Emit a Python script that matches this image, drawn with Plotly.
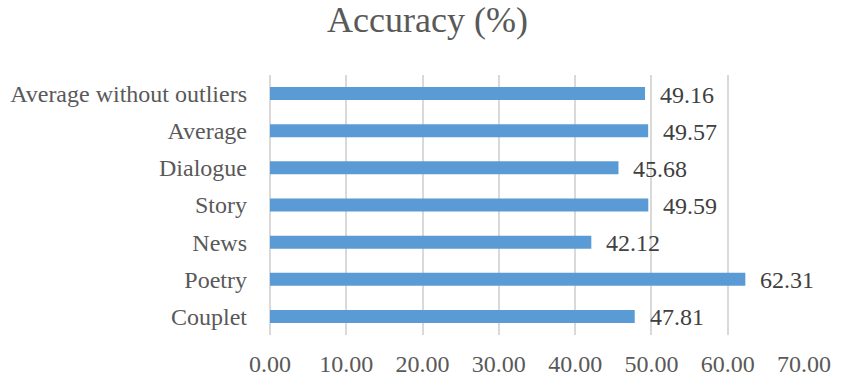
import plotly.graph_objects as go

categories = ["Couplet", "Poetry", "News", "Story", "Dialogue", "Average", "Average without outliers"]
values = [47.81, 62.31, 42.12, 49.59, 45.68, 49.57, 49.16]
tick_vals = [0, 10, 20, 30, 40, 50, 60, 70]
tick_text = ["0.00", "10.00", "20.00", "30.00", "40.00", "50.00", "60.00", "70.00"]

font_fam = "Liberation Serif, Times New Roman, serif"
gray = "#595959"

fig = go.Figure(go.Bar(
    y=categories, x=values, orientation="h",
    marker=dict(color="#5B9BD5", line=dict(width=0)),
    hoverinfo="skip",
))

for c, v in zip(categories, values):
    fig.add_annotation(x=v, y=c, text=f"{v:.2f}", showarrow=False,
                       xanchor="left", xshift=13, yshift=-1,
                       font=dict(family=font_fam, size=24, color="#404040"))

fig.update_layout(
    width=855, height=388,
    margin=dict(l=270, r=51, t=75, b=53),
    paper_bgcolor="white", plot_bgcolor="white",
    bargap=0.65,
    showlegend=False,
    title=dict(text="Accuracy (%)", x=0.5, xanchor="center", y=0.95, yanchor="middle",
               font=dict(family=font_fam, size=36, color=gray)),
    xaxis=dict(range=[0, 70], tickvals=tick_vals, ticktext=tick_text,
               showgrid=True, gridcolor="#D9D9D9", gridwidth=1.5,
               zeroline=True, zerolinecolor="#D9D9D9", zerolinewidth=1.5,
               showline=False, ticks="", ticklabelstandoff=12, automargin=False,
               tickfont=dict(family=font_fam, size=24, color=gray)),
    yaxis=dict(showgrid=False, zeroline=False, showline=False, ticks="",
               ticklabelstandoff=22, automargin=False,
               tickfont=dict(family=font_fam, size=24, color=gray)),
)

fig.write_html("out.html", config={"displayModeBar": False},
               post_script="document.body.style.margin='0';document.body.style.overflow='hidden';")
